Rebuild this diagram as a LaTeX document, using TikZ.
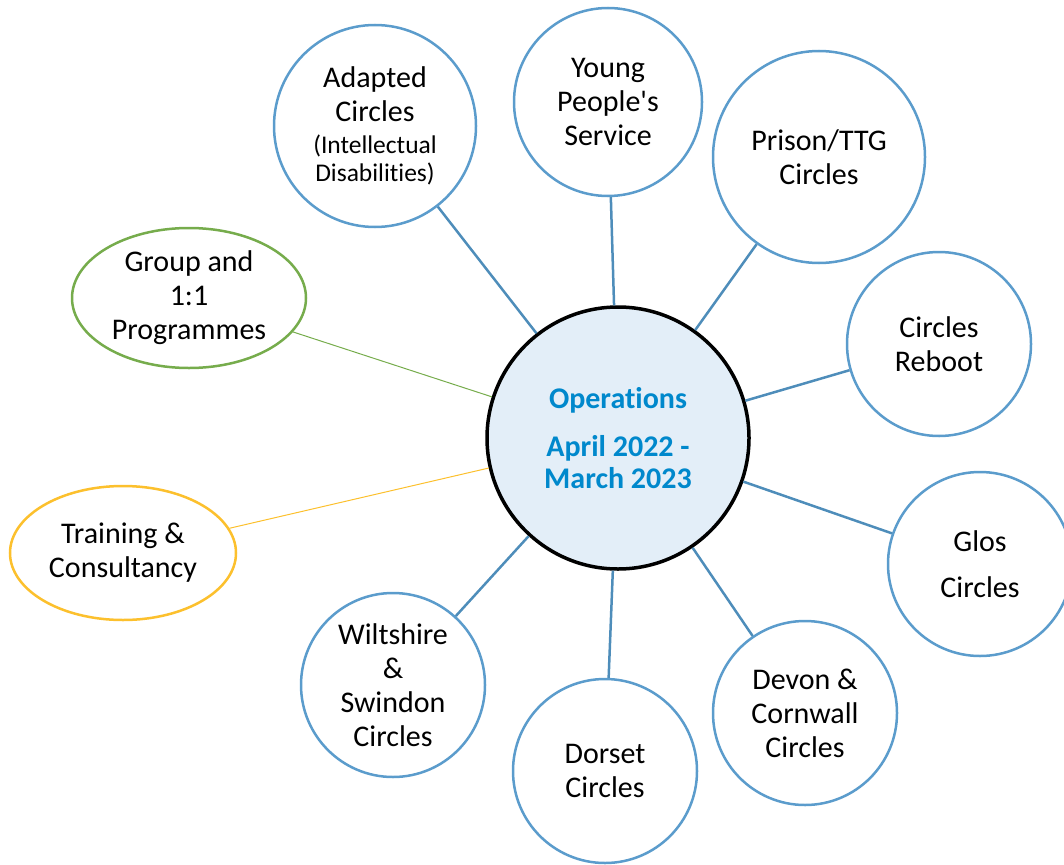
\documentclass[tikz,border=0pt]{standalone}
\usepackage{fontspec}
\setmainfont{Carlito}[Ligatures={TeXOff,CommonOff}]
\usepackage{tikz}
\usetikzlibrary{shapes.geometric}

\definecolor{ringblue}{RGB}{91,156,204}
\definecolor{linkblue}{RGB}{78,141,186}
\definecolor{opsfill}{RGB}{227,238,248}
\definecolor{opstext}{RGB}{0,136,204}
\definecolor{progreen}{RGB}{118,172,76}
\definecolor{trainyellow}{RGB}{252,192,45}

\newcommand{\mainsize}{\fontsize{30}{34}\selectfont}
\newcommand{\smallsize}{\fontsize{25.5}{28}\selectfont}

\begin{document}
\begin{tikzpicture}[x=1pt,y=-1pt,
	branch/.style={circle,draw=ringblue,line width=2.5pt,fill=white,
		minimum size=#1,inner sep=0pt,align=center,font=\mainsize},
	oval/.style={ellipse,line width=2.5pt,fill=white,inner sep=0pt,
		align=center,font=\mainsize},
	hub/.style={circle,draw=black,line width=3.5pt,fill=opsfill,
		minimum size=262,inner sep=0pt,align=center,
		font=\fontsize{30}{32}\selectfont\bfseries,text=opstext},
	link/.style={draw=linkblue,line width=2.5pt}]
	  \useasboundingbox (0,0) rectangle (1064,864);
	  % Draw the centre circle
	  \node[hub] (ops) at (618,438) {Operations\\[16pt]April 2022 -\\March 2023};
	  % Draw the circles round it
	  \node[branch=202] (adapted) at (375,126)
	      {Adapted\\Circles\\[-2pt]{\smallsize (Intellectual}\\[-6pt]{\smallsize Disabilities)}};
	  \node[branch=188] (young) at (608,102) {Young\\People's\\Service};
	  \node[branch=212] (prison) at (819,157) {Prison/TTG\\Circles};
	  \node[branch=184] (reboot) at (939,344) {Circles\\Reboot};
	  \node[branch=184] (glos) at (980,564) {Glos\\[12pt]Circles};
	  \node[branch=184] (devon) at (805,713) {Devon \&\\Cornwall\\Circles};
	  \node[branch=184] (dorset) at (605,771) {Dorset\\Circles};
	  \node[branch=184] (wilts) at (393,685) {Wiltshire\\\&\\Swindon\\Circles};
	  % Draw the two ellipses
	  \node[oval,draw=progreen,minimum width=234,minimum height=140] (group) at (189,298)
	      {Group and\\1:1\\Programmes};
	  \node[oval,draw=trainyellow,minimum width=226,minimum height=134] (training) at (123,553)
	      {Training \&\\Consultancy};
	  % Draw the connectors
	  \foreach \b in {adapted,young,prison,reboot,glos,devon,dorset,wilts}
	      \draw[link] (ops) -- (\b);
	  \draw[progreen,line width=1pt] (ops) -- (group);
	  \draw[trainyellow,line width=1pt] (ops) -- (training);
      \end{tikzpicture}
\end{document}
